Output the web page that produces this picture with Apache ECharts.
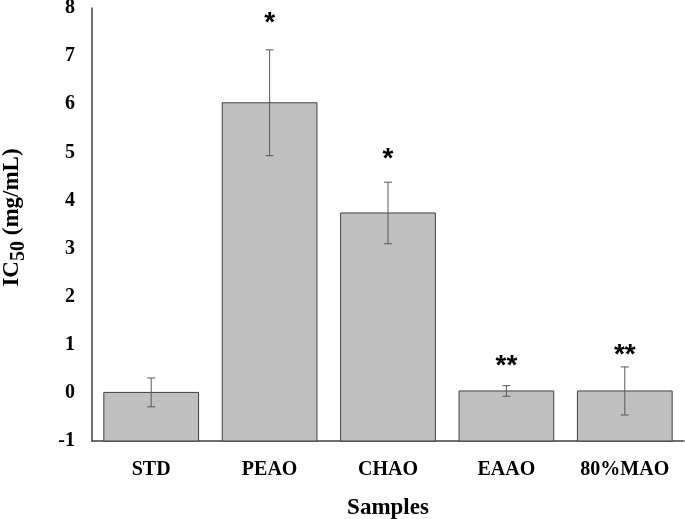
<!DOCTYPE html>
<html><head><meta charset="utf-8">
<script src="https://cdn.jsdelivr.net/npm/echarts@6/dist/echarts.min.js"></script>
<style>html,body{margin:0;padding:0;background:#fff}#c{width:685px;height:519px}</style>
</head><body><div id="c"></div>
<script>
const categories = ['STD', 'PEAO', 'CHAO', 'EAAO', '80%MAO'];
const values = [0.01, 6.03, 3.74, 0.04, 0.04];
const errors = [0.30, 1.10, 0.64, 0.11, 0.50];
const marks = ['', '*', '*', '**', '**'];
const markY = [null, 7.79, 4.95, 0.66, 0.89];
const yTicks = [-1, 0, 1, 2, 3, 4, 5, 6, 7, 8];

const markData = markY.map((y, i) => [i, y, marks[i]]).filter(d => d[1] !== null);

const chart = echarts.init(document.getElementById('c'));
const serif = '"Liberation Serif", "Times New Roman", serif';
chart.setOption({
  animation: false,
  grid: { left: 92, right: 1, top: 8, bottom: 78, containLabel: false, outerBoundsMode: 'none' },
  xAxis: {
    type: 'category', data: categories,
    axisLine: { onZero: false, lineStyle: { color: '#404040', width: 1.5 } },
    axisTick: { show: false },
    axisLabel: { color: '#000', fontFamily: serif, fontWeight: 'bold', fontSize: 20, margin: 19 },
    name: 'Samples', nameLocation: 'middle', nameGap: 56,
    nameTextStyle: { color: '#000', fontFamily: serif, fontWeight: 'bold', fontSize: 23 }
  },
  yAxis: {
    type: 'value', min: yTicks[0], max: yTicks[yTicks.length - 1], interval: 1,
    axisLine: { show: true, lineStyle: { color: '#404040', width: 1.5 } },
    axisTick: { show: false },
    splitLine: { show: false },
    axisLabel: { color: '#000', fontFamily: serif, fontWeight: 'bold', fontSize: 20, margin: 17 },
    name: '{a|IC}{s|50}{a| (mg/mL)}', nameLocation: 'middle', nameGap: 63, nameRotate: 90,
    nameTextStyle: {
      padding: [0, 0, 0, 14],
      rich: {
        a: { fontFamily: serif, fontWeight: 'bold', fontSize: 23, color: '#000', verticalAlign: 'top' },
        s: { fontFamily: serif, fontWeight: 'bold', fontSize: 20, color: '#000', padding: [8, 0, 0, 0], verticalAlign: 'bottom' }
      }
    }
  },
  series: [
    {
      type: 'custom',
      data: values.map((v, i) => [i, v]),
      renderItem: function (params, api) {
        const i = api.value(0), v = api.value(1);
        const top = api.coord([i, v]);
        const base = api.coord([i, yTicks[0]]);
        const w = api.size([1, 0])[0] * 0.8;
        return {
          type: 'rect',
          shape: { x: top[0] - w / 2, y: top[1], width: w, height: base[1] - top[1] },
          style: { fill: '#c0c0c0', stroke: '#404040', lineWidth: 1 }
        };
      },
      z: 2
    },
    {
      type: 'custom',
      data: values.map((v, i) => [i, v - errors[i], v + errors[i]]),
      renderItem: function (params, api) {
        const i = api.value(0);
        const lo = api.coord([i, api.value(1)]);
        const hi = api.coord([i, api.value(2)]);
        const c = 4;
        const st = { stroke: '#595959', lineWidth: 1 };
        return {
          type: 'group', children: [
            { type: 'line', shape: { x1: hi[0], y1: hi[1], x2: lo[0], y2: lo[1] }, style: st },
            { type: 'line', shape: { x1: hi[0] - c, y1: hi[1], x2: hi[0] + c, y2: hi[1] }, style: st },
            { type: 'line', shape: { x1: lo[0] - c, y1: lo[1], x2: lo[0] + c, y2: lo[1] }, style: st }
          ]
        };
      },
      z: 3
    },
    {
      type: 'custom',
      data: markData,
      renderItem: function (params, api) {
        const p = api.coord([api.value(0), api.value(1)]);
        const item = markData[params.dataIndex];
        return {
          type: 'text',
          style: {
            x: p[0], y: p[1] + 5, text: item[2],
            fill: '#000', font: 'bold 28px "Liberation Sans", Arial, sans-serif',
            align: 'center', verticalAlign: 'middle'
          }
        };
      },
      z: 4
    }
  ]
});
</script></body></html>
